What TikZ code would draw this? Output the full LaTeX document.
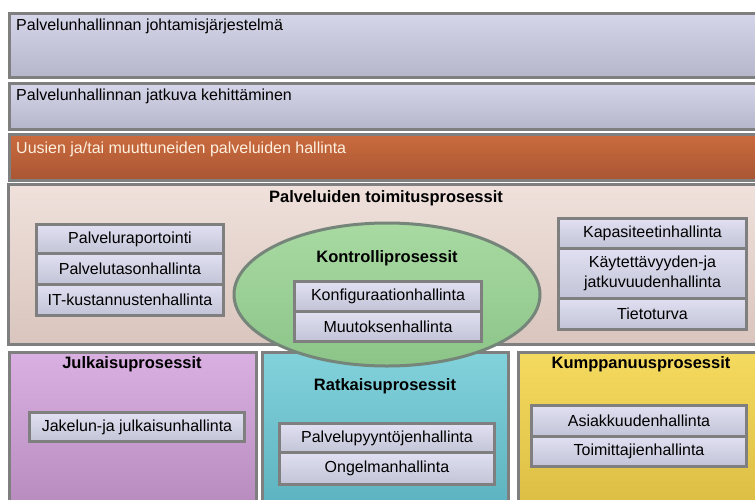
\documentclass[tikz,border=0pt]{standalone}
\usepackage{fontspec}
\setmainfont{Liberation Sans}
\usetikzlibrary{shapes.geometric}
\definecolor{framegray}{HTML}{7F7F7F}
\definecolor{lavtop}{HTML}{D6D6EA}
\definecolor{lavbot}{HTML}{B6B6CA}
\definecolor{orangetop}{HTML}{CB6B3E}
\definecolor{orangebot}{HTML}{A95633}
\definecolor{pinktop}{HTML}{F0E1DC}
\definecolor{pinkbot}{HTML}{D9C5BD}
\definecolor{greentop}{HTML}{A8DAA2}
\definecolor{greenbot}{HTML}{8CC488}
\definecolor{greenedge}{HTML}{75857A}
\definecolor{purpletop}{HTML}{DAB0E2}
\definecolor{purplebot}{HTML}{B68ABD}
\definecolor{tealtop}{HTML}{82D2DB}
\definecolor{tealbot}{HTML}{5CB2BF}
\definecolor{yellowtop}{HTML}{F4DA5E}
\definecolor{yellowbot}{HTML}{DCBD44}
\definecolor{itemtop}{HTML}{E0E0F2}
\definecolor{itembot}{HTML}{C3C3D7}
\definecolor{creamtext}{HTML}{FFF0E0}
\tikzset{
  outerbox/.style={draw=framegray, line width=3pt},
  itembox/.style={draw=framegray, line width=3pt, top color=itemtop, bottom color=itembot,
    anchor=north west, inner sep=0pt, align=center, font=\fontsize{16}{20}\selectfont},
  bandtext/.style={anchor=base west, inner sep=0pt, font=\fontsize{16}{18}\selectfont},
  headtext/.style={anchor=base, inner sep=0pt, font=\fontsize{16.5}{18}\selectfont\bfseries}
}
\begin{document}
\begin{tikzpicture}[x=1pt, y=-1pt]
\clip (0,0) rectangle (755,499);
\fill[white] (0,0) rectangle (755,499);
% bands
\shade[outerbox, top color=lavtop, bottom color=lavbot] (9,13) rectangle (765,77);
\shade[outerbox, top color=lavtop, bottom color=lavbot] (9,83) rectangle (765,129);
\shade[outerbox, top color=orangetop, bottom color=orangebot] (9,134) rectangle (765,180);
\shade[outerbox, top color=pinktop, bottom color=pinkbot] (8,184) rectangle (765,344);
\shade[outerbox, top color=purpletop, bottom color=purplebot] (9,352) rectangle (256,510);
\shade[outerbox, top color=tealtop, bottom color=tealbot] (262,352) rectangle (508,510);
\shade[outerbox, top color=yellowtop, bottom color=yellowbot] (518,352) rectangle (765,510);
\node[bandtext] (t1) at (16,30) {Palvelunhallinnan johtamisjärjestelmä};
\node[bandtext] (t2) at (16,100) {Palvelunhallinnan jatkuva kehittäminen};
\node[bandtext, text=creamtext] (t3) at (16,153) {Uusien ja/tai muuttuneiden palveluiden hallinta};
\node[headtext] (h1) at (386,202) {Palveluiden toimitusprosessit};
\node[headtext] (h3) at (132,368) {Julkaisuprosessit};
\node[headtext] (h5) at (641,368) {Kumppanuusprosessit};
% left group
\node[itembox, minimum width=187pt, minimum height=29pt] (a1) at (35,223) {Palveluraportointi};
\node[itembox, minimum width=187pt, minimum height=31pt] (a2) at (35,252) {Palvelutasonhallinta};
\node[itembox, minimum width=187pt, minimum height=31pt] (a3) at (35,283) {IT-kustannustenhallinta};
% right group
\node[itembox, minimum width=188pt, minimum height=30pt] (b1) at (557,217) {Kapasiteetinhallinta};
\node[itembox, minimum width=188pt, minimum height=50pt] (b2) at (557,247) {Käytettävyyden-ja\\jatkuvuudenhallinta};
\node[itembox, minimum width=188pt, minimum height=31pt] (b3) at (557,297) {Tietoturva};
% bottom groups
\node[itembox, minimum width=215pt, minimum height=29pt] (c1) at (28,411) {Jakelun-ja julkaisunhallinta};
\node[itembox, minimum width=215pt, minimum height=29pt] (d1) at (278,422) {Palvelupyyntöjenhallinta};
\node[itembox, minimum width=215pt, minimum height=32pt] (d2) at (278,451) {Ongelmanhallinta};
\node[itembox, minimum width=215pt, minimum height=31pt] (e1) at (530,404) {Asiakkuudenhallinta};
\node[itembox, minimum width=215pt, minimum height=30pt] (e2) at (530,435) {Toimittajienhallinta};
\node[headtext] (h4) at (385,390) {Ratkaisuprosessit};
% ellipse
\shade[draw=greenedge, line width=3pt, top color=greentop, bottom color=greenbot] (387,294.5) ellipse [x radius=153, y radius=71.5];
\node[headtext] (h2) at (387,262) {Kontrolliprosessit};
\node[itembox, minimum width=187pt, minimum height=30pt] (k1) at (293,280) {Konfiguraationhallinta};
\node[itembox, minimum width=187pt, minimum height=30pt] (k2) at (293,310) {Muutoksenhallinta};
\end{tikzpicture}
\end{document}
